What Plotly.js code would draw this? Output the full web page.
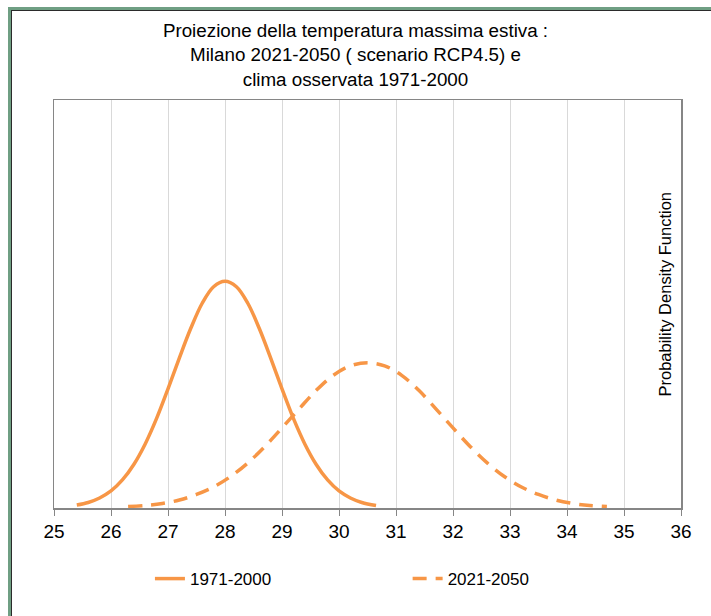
<!DOCTYPE html>
<html>
<head>
<meta charset="utf-8">
<script src="https://cdn.plot.ly/plotly-3.0.1.min.js"></script>
<style>
  html, body { margin: 0; padding: 0; background: #ffffff; }
  #frame { position: absolute; left: 8px; top: 7px; width: 703px; height: 609px;
           border-left: 3px solid #6f9f83; border-top: 3px solid #6f9f83; box-sizing: border-box; }
  #inner { position: absolute; left: 0; top: 0; right: 0; bottom: 0;
           border-left: 1px solid #2b2b2b; border-top: 1px solid #2b2b2b; box-sizing: border-box; }
  #chart { position: absolute; left: 0; top: 0; width: 711px; height: 616px; }
</style>
</head>
<body>
<div id="frame"><div id="inner"></div></div>
<div id="chart"></div>
<script>
const xObserved = [25.4, 25.6, 25.8, 26.0, 26.2, 26.4, 26.6, 26.8, 27.0, 27.2, 27.4, 27.6, 27.8, 28.0,
                   28.2, 28.4, 28.6, 28.8, 29.0, 29.2, 29.4, 29.6, 29.8, 30.0, 30.2, 30.4, 30.65];
const yObserved = [0.006, 0.011, 0.020, 0.034, 0.056, 0.087, 0.128, 0.179, 0.238, 0.300, 0.359, 0.409, 0.442, 0.453,
                   0.442, 0.409, 0.359, 0.300, 0.238, 0.179, 0.128, 0.087, 0.056, 0.034, 0.020, 0.011, 0.005];
// Projection 2021-2050 RCP4.5
const xProjected = [26.3, 26.6, 26.9, 27.2, 27.5, 27.8, 28.1, 28.4, 28.7, 29.0, 29.3, 29.6, 29.9, 30.2, 30.5,
                    30.8, 31.1, 31.4, 31.7, 32.0, 32.3, 32.6, 32.9, 33.2, 33.5, 33.8, 34.1, 34.4, 34.7];
const yProjected = [0.003, 0.005, 0.009, 0.016, 0.027, 0.042, 0.063, 0.090, 0.123, 0.160, 0.198, 0.235, 0.265, 0.284, 0.290,
                    0.284, 0.265, 0.235, 0.198, 0.160, 0.123, 0.090, 0.063, 0.042, 0.027, 0.016, 0.009, 0.005, 0.003];
const seriesNames = ["1971-2000", "2021-2050"];
const xTicks = [25, 26, 27, 28, 29, 30, 31, 32, 33, 34, 35, 36];

const orange = "#F79646";
const traces = [
  { x: xObserved, y: yObserved, name: seriesNames[0], type: "scatter", mode: "lines",
    line: { color: orange, width: 3.5, shape: "spline" }, legend: "legend" },
  { x: xProjected, y: yProjected, name: seriesNames[1], type: "scatter", mode: "lines",
    line: { color: orange, width: 3.5, shape: "spline", dash: "14px,9px" }, legend: "legend2" }
];

const font = "Liberation Sans, Arial, sans-serif";
const layout = {
  width: 711, height: 616,
  paper_bgcolor: "rgba(0,0,0,0)", plot_bgcolor: "#ffffff",
  margin: { l: 54, r: 30, t: 100, b: 108 },
  font: { family: font, color: "#000000" },
  title: {
    text: "Proiezione della temperatura massima estiva :<br>Milano 2021-2050 ( scenario RCP4.5) e<br>clima osservata 1971-2000",
    font: { family: font, size: 18.8, color: "#000000" },
    x: 0.5, xanchor: "center", xref: "container",
    yref: "paper", y: 1, yanchor: "bottom", pad: { b: 63 }
  },
  xaxis: {
    range: [25, 36], tickvals: xTicks, ticktext: xTicks.map(String),
    showgrid: true, gridcolor: "#d9d9d9", gridwidth: 1,
    showline: true, linecolor: "#868686", linewidth: 1.5, mirror: true,
    ticks: "outside", ticklen: 6, tickcolor: "#868686", tickwidth: 1,
    tickfont: { family: font, size: 19, color: "#000000" },
    zeroline: false, fixedrange: true
  },
  yaxis: {
    range: [0, 0.815], showticklabels: false, showgrid: false, ticks: "",
    showline: true, linecolor: "#868686", linewidth: 1.5, mirror: true,
    zeroline: false, fixedrange: true
  },
  annotations: [{
    text: "Probability Density Function", xref: "paper", yref: "paper",
    x: 0.974, y: 0.525, xanchor: "center", yanchor: "middle", textangle: -90,
    showarrow: false, font: { family: font, size: 16.5, color: "#000000" }
  }],
  legend: {
    x: 0.153, y: -0.13, xanchor: "left", yanchor: "top", orientation: "h",
    bgcolor: "rgba(0,0,0,0)", font: { family: font, size: 17, color: "#000000" },
    itemwidth: 30
  },
  legend2: {
    x: 0.564, y: -0.13, xanchor: "left", yanchor: "top", orientation: "h",
    bgcolor: "rgba(0,0,0,0)", font: { family: font, size: 17, color: "#000000" },
    itemwidth: 30
  },
  showlegend: true
};

Plotly.newPlot("chart", traces, layout, { displayModeBar: false, staticPlot: true });
</script>
</body>
</html>
